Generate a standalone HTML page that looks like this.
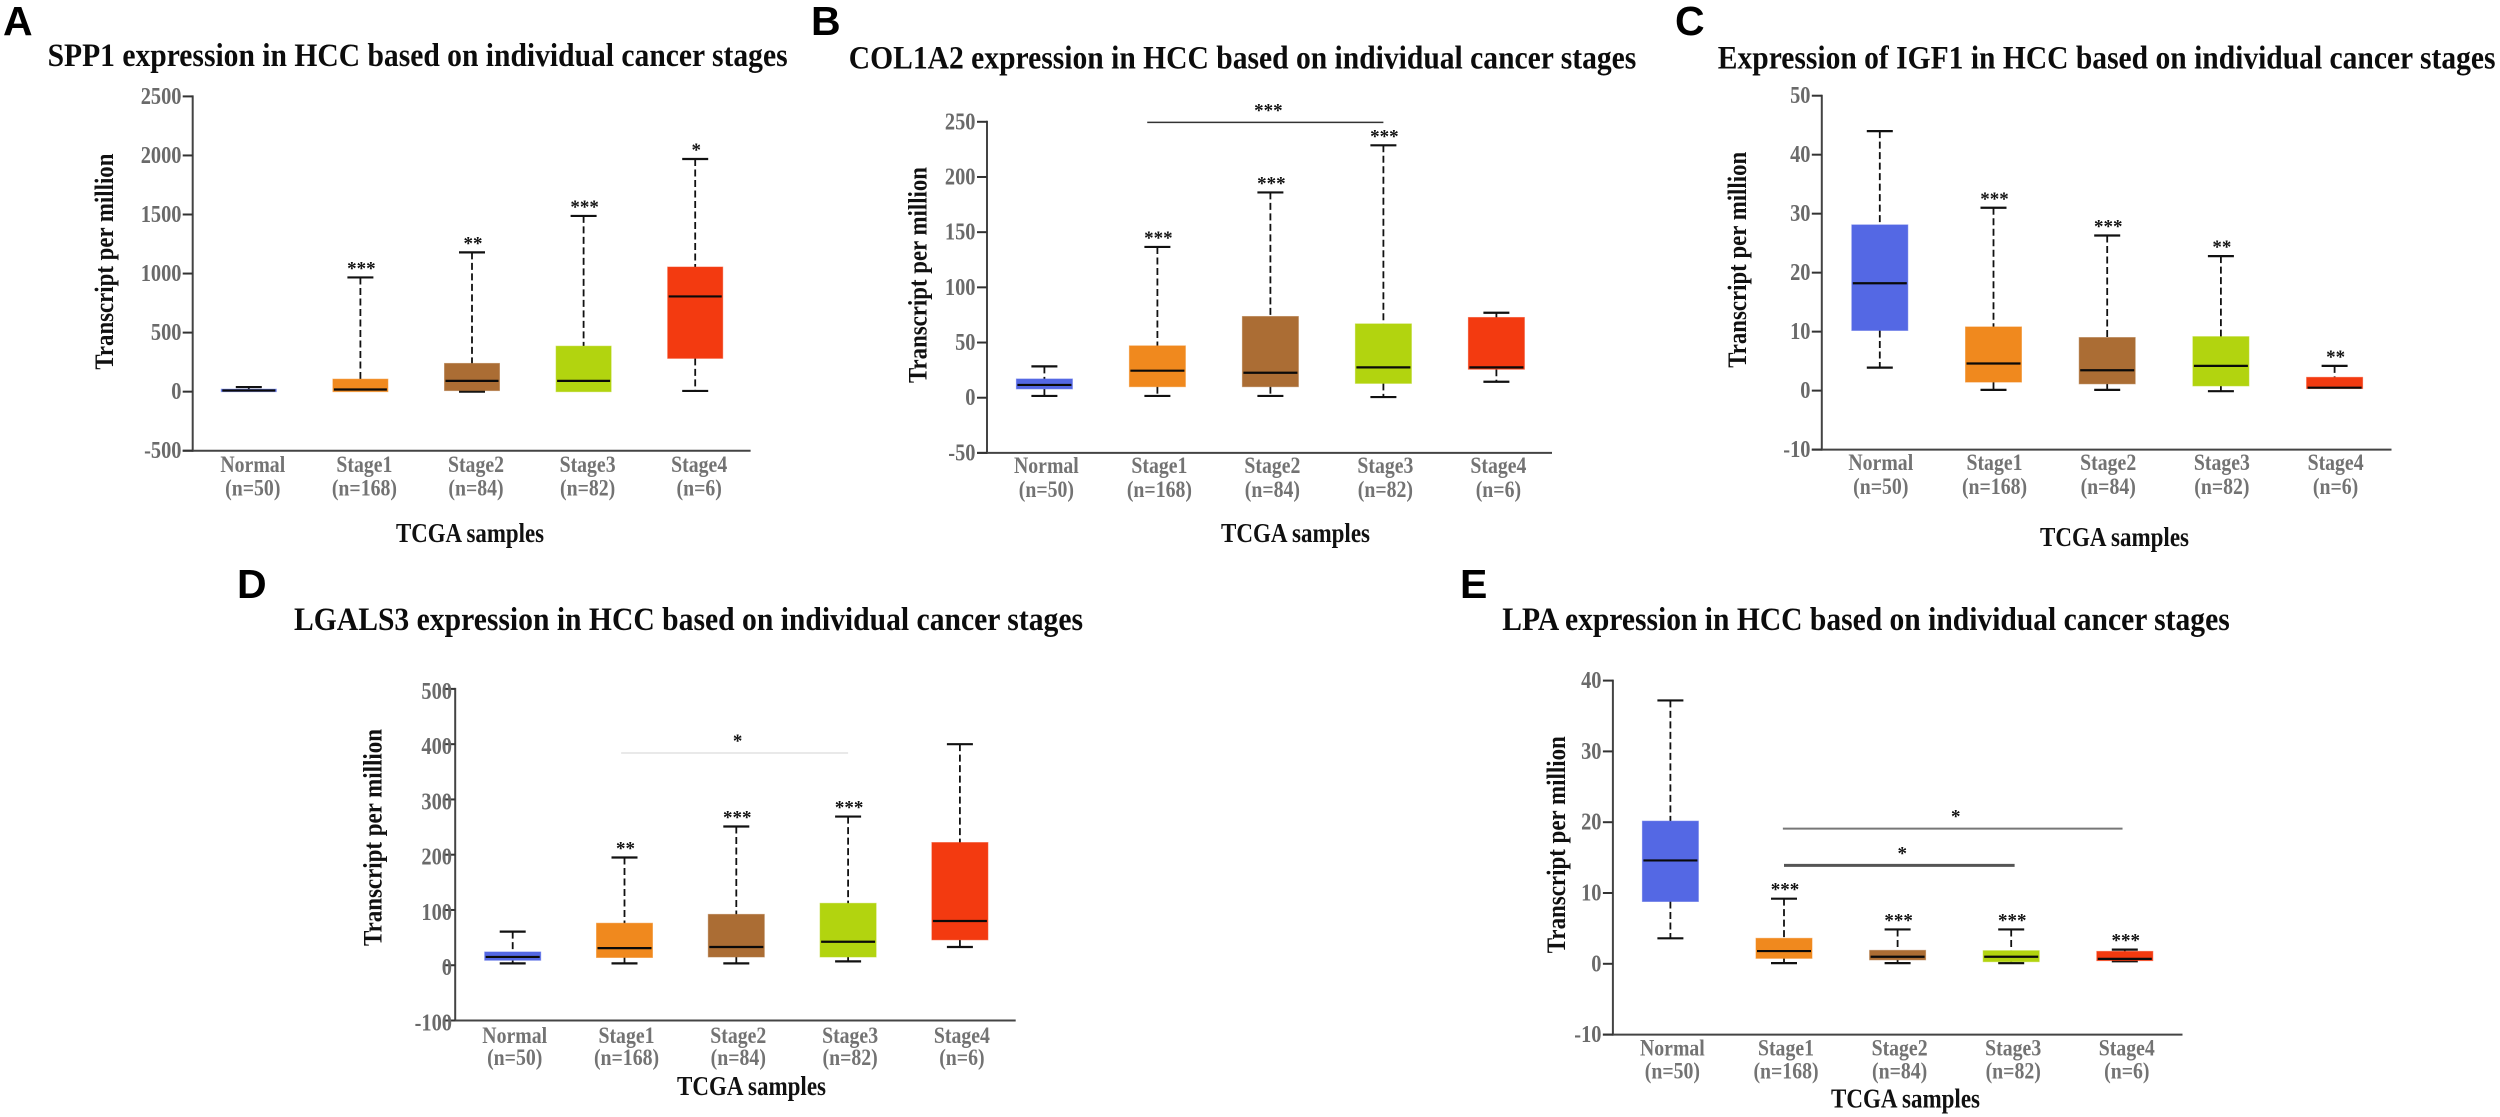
<!DOCTYPE html>
<html lang="en">
<head>
<meta charset="utf-8">
<title>Gene expression in HCC by cancer stage</title>
<style>
html,body{margin:0;padding:0;background:#fff;width:2500px;height:1117px;overflow:hidden}
svg{display:block}
text{font-family:"Liberation Serif",serif;font-weight:bold}
.letter{font-family:"Liberation Sans",sans-serif;font-size:41px;fill:#000}
.title{font-size:33px;fill:#0c0c0c}
.ytitle{font-size:26px;fill:#111}
.xtitle{font-size:27px;fill:#111}
</style>
</head>
<body>
<svg id="figure" xmlns="http://www.w3.org/2000/svg" width="2500" height="1117" viewBox="0 0 2500 1117">
  <rect x="0" y="0" width="2500" height="1117" fill="#fff"/>

  <text class="letter" x="3" y="35">A</text>
  <text class="letter" x="811" y="35">B</text>
  <text class="letter" x="1675" y="35">C</text>
  <text class="letter" x="237" y="598">D</text>
  <text class="letter" x="1460" y="598">E</text>

  <text class="title" x="47.6" y="66" textLength="740" lengthAdjust="spacingAndGlyphs">SPP1 expression in HCC based on individual cancer stages</text>
  <text class="title" x="848.8" y="68.5" textLength="787.5" lengthAdjust="spacingAndGlyphs">COL1A2 expression in HCC based on individual cancer stages</text>
  <text class="title" x="1717.8" y="68.5" textLength="777.7" lengthAdjust="spacingAndGlyphs">Expression of IGF1 in HCC based on individual cancer stages</text>
  <text class="title" x="294" y="630" textLength="789" lengthAdjust="spacingAndGlyphs">LGALS3 expression in HCC based on individual cancer stages</text>
  <text class="title" x="1502.3" y="630" textLength="727.4" lengthAdjust="spacingAndGlyphs">LPA expression in HCC based on individual cancer stages</text>

  <text class="ytitle" transform="translate(112.8 261.6) rotate(-90)" text-anchor="middle" textLength="216" lengthAdjust="spacingAndGlyphs">Transcript per million</text>
  <text class="ytitle" transform="translate(926.3 275) rotate(-90)" text-anchor="middle" textLength="216" lengthAdjust="spacingAndGlyphs">Transcript per million</text>
  <text class="ytitle" transform="translate(1746 259.8) rotate(-90)" text-anchor="middle" textLength="216" lengthAdjust="spacingAndGlyphs">Transcript per million</text>
  <text class="ytitle" transform="translate(381.5 837.5) rotate(-90)" text-anchor="middle" textLength="217" lengthAdjust="spacingAndGlyphs">Transcript per million</text>
  <text class="ytitle" transform="translate(1565.2 844.7) rotate(-90)" text-anchor="middle" textLength="217" lengthAdjust="spacingAndGlyphs">Transcript per million</text>

  <text class="xtitle" x="396" y="542" textLength="148" lengthAdjust="spacingAndGlyphs">TCGA samples</text>
  <text class="xtitle" x="1221" y="542" textLength="149" lengthAdjust="spacingAndGlyphs">TCGA samples</text>
  <text class="xtitle" x="2040" y="546" textLength="149" lengthAdjust="spacingAndGlyphs">TCGA samples</text>
  <text class="xtitle" x="677" y="1095" textLength="149" lengthAdjust="spacingAndGlyphs">TCGA samples</text>
  <text class="xtitle" x="1831" y="1107.7" textLength="149" lengthAdjust="spacingAndGlyphs">TCGA samples</text>
</svg>

<script>
// ---- shared categories ----
const categories = ['Normal', 'Stage1', 'Stage2', 'Stage3', 'Stage4'];
const sampleSizes = ['(n=50)', '(n=168)', '(n=84)', '(n=82)', '(n=6)'];
const boxColors = ['#5468e4', '#f0891e', '#ab6d34', '#b2d40f', '#f33a10'];

// ---- SPP1 ----
const spp1Ticks = [-500, 0, 500, 1000, 1500, 2000, 2500];
const spp1Hi = [39, 967, 1179, 1488, 1970];
const spp1Q3 = [21, 106, 239, 385, 1055];
const spp1Med = [10, 18, 91, 91, 806];
const spp1Q1 = [0, 0, 9, 0, 282];
const spp1Lo = [0, 0, 0, 0, 6];
const spp1Stars = ['', '***', '**', '***', '*'];
const spp1BracketFrom = [];
const spp1BracketTo = [];
const spp1BracketValue = [];
const spp1BracketStars = [];

// ---- COL1A2 ----
const col1a2Ticks = [-50, 0, 50, 100, 150, 200, 250];
const col1a2Hi = [28.4, 136.6, 186, 228.7, 77];
const col1a2Q3 = [17, 47, 73.6, 66.9, 72.7];
const col1a2Med = [11.6, 24.5, 22.6, 27.5, 27.5];
const col1a2Q1 = [8, 10, 10, 13, 25.8];
const col1a2Lo = [1.6, 1.6, 1.6, 0.6, 14.5];
const col1a2Stars = ['', '***', '***', '***', ''];
const col1a2BracketFrom = [0.91];
const col1a2BracketTo = [3];
const col1a2BracketValue = [249.5];
const col1a2BracketStars = ['***'];

// ---- IGF1 ----
const igf1Ticks = [-10, 0, 10, 20, 30, 40, 50];
const igf1Hi = [44, 31, 26.3, 22.8, 4.2];
const igf1Q3 = [28.1, 10.8, 9, 9.15, 2.25];
const igf1Med = [18.2, 4.6, 3.45, 4.2, 0.5];
const igf1Q1 = [10.2, 1.45, 1.15, 0.8, 0.35];
const igf1Lo = [3.9, 0.12, 0.12, -0.1, 0.35];
const igf1Stars = ['', '***', '***', '**', '**'];
const igf1BracketFrom = [];
const igf1BracketTo = [];
const igf1BracketValue = [];
const igf1BracketStars = [];

// ---- LGALS3 ----
const lgals3Ticks = [-100, 0, 100, 200, 300, 400, 500];
const lgals3Hi = [60.8, 195, 251, 269, 400];
const lgals3Q3 = [24, 76, 92, 112, 222];
const lgals3Med = [15, 31, 33, 42.5, 80];
const lgals3Q1 = [9, 14, 15, 15, 46];
const lgals3Lo = [3.3, 3.3, 3.3, 7, 33];
const lgals3Stars = ['', '**', '***', '***', ''];
const lgals3BracketFrom = [0.97];
const lgals3BracketTo = [3];
const lgals3BracketValue = [384];
const lgals3BracketStars = ['*'];

// ---- LPA ----
const lpaTicks = [-10, 0, 10, 20, 30, 40];
const lpaHi = [37.2, 9.2, 4.85, 4.85, 2];
const lpaQ3 = [20.15, 3.6, 1.9, 1.85, 1.75];
const lpaMed = [14.6, 1.8, 1, 1, 0.7];
const lpaQ1 = [8.8, 0.77, 0.56, 0.3, 0.45];
const lpaLo = [3.6, 0.1, 0.1, 0.1, 0.35];
const lpaStars = ['', '***', '***', '***', '***'];
const lpaBracketFrom = [0.99, 1];
const lpaBracketTo = [3.98, 3.03];
const lpaBracketValue = [19.1, 13.9];
const lpaBracketStars = ['*', '*'];

// ---- panel layout (pixels live here, not in the data arrays) ----
const panels = [
  {key:'spp1', axisX:192.7, top:96.4, bottom:450.7, right:750.6, tickLen:10, tickLabelX:181.5, tickLabelDy:7.5,
   first:248.8, step:111.6, boxW:55, labelDy:[21.5,45], labelDx:4,
   bracketColor:[], bracketWidth:[],
   ticks:spp1Ticks, hi:spp1Hi, q3:spp1Q3, med:spp1Med, q1:spp1Q1, lo:spp1Lo, stars:spp1Stars,
   bFrom:spp1BracketFrom, bTo:spp1BracketTo, bVal:spp1BracketValue, bStars:spp1BracketStars},
  {key:'col1a2', axisX:987, top:121.8, bottom:452.9, right:1552, tickLen:10, tickLabelX:975.5, tickLabelDy:7.5,
   first:1044.4, step:113, boxW:56, labelDy:[20,44], labelDx:2,
   bracketColor:['#333'], bracketWidth:[1.5],
   ticks:col1a2Ticks, hi:col1a2Hi, q3:col1a2Q3, med:col1a2Med, q1:col1a2Q1, lo:col1a2Lo, stars:col1a2Stars,
   bFrom:col1a2BracketFrom, bTo:col1a2BracketTo, bVal:col1a2BracketValue, bStars:col1a2BracketStars},
  {key:'igf1', axisX:1821.8, top:95.7, bottom:449.6, right:2391.5, tickLen:10, tickLabelX:1810.5, tickLabelDy:7.5,
   first:1879.8, step:113.7, boxW:56, labelDy:[20.4,44.4], labelDx:1,
   bracketColor:[], bracketWidth:[],
   ticks:igf1Ticks, hi:igf1Hi, q3:igf1Q3, med:igf1Med, q1:igf1Q1, lo:igf1Lo, stars:igf1Stars,
   bFrom:igf1BracketFrom, bTo:igf1BracketTo, bVal:igf1BracketValue, bStars:igf1BracketStars},
  {key:'lgals3', axisX:455.2, top:688.9, bottom:1020.5, right:1015.7, tickLen:10, tickLabelX:452, tickLabelDy:10,
   first:512.7, step:111.8, boxW:56, labelDy:[22.5,44.5], labelDx:2,
   bracketColor:['#e9e9e9'], bracketWidth:[2],
   ticks:lgals3Ticks, hi:lgals3Hi, q3:lgals3Q3, med:lgals3Med, q1:lgals3Q1, lo:lgals3Lo, stars:lgals3Stars,
   bFrom:lgals3BracketFrom, bTo:lgals3BracketTo, bVal:lgals3BracketValue, bStars:lgals3BracketStars},
  {key:'lpa', axisX:1612.9, top:680.6, bottom:1034.6, right:2182.5, tickLen:10, tickLabelX:1601.5, tickLabelDy:7.5,
   first:1670.4, step:113.6, boxW:56, labelDy:[21,44], labelDx:2,
   bracketColor:['#777','#555'], bracketWidth:[2,3],
   ticks:lpaTicks, hi:lpaHi, q3:lpaQ3, med:lpaMed, q1:lpaQ1, lo:lpaLo, stars:lpaStars,
   bFrom:lpaBracketFrom, bTo:lpaBracketTo, bVal:lpaBracketValue, bStars:lpaBracketStars}
];

const NS = 'http://www.w3.org/2000/svg';
const svg = document.getElementById('figure');

function line(parent, x1, y1, x2, y2, stroke, width, dash) {
  const el = document.createElementNS(NS, 'line');
  el.setAttribute('x1', x1);
  el.setAttribute('y1', y1);
  el.setAttribute('x2', x2);
  el.setAttribute('y2', y2);
  el.setAttribute('stroke', stroke);
  el.setAttribute('stroke-width', width);
  if (dash) el.setAttribute('stroke-dasharray', dash);
  parent.appendChild(el);
  return el;
}

function label(parent, x, y, str, size, fill, anchor, squeeze) {
  const el = document.createElementNS(NS, 'text');
  el.setAttribute('x', x);
  el.setAttribute('y', y);
  el.setAttribute('font-size', size);
  el.setAttribute('fill', fill);
  el.setAttribute('text-anchor', anchor);
  el.textContent = str;
  parent.appendChild(el);
  if (squeeze) {
    const w = el.getComputedTextLength();
    el.setAttribute('textLength', (w * squeeze).toFixed(2));
    el.setAttribute('lengthAdjust', 'spacingAndGlyphs');
  }
  return el;
}

panels.forEach(function (p) {
  const dMin = p.ticks[0];
  const dMax = p.ticks[p.ticks.length - 1];
  const yScale = function (v) { return p.bottom - (v - dMin) / (dMax - dMin) * (p.bottom - p.top); };
  const xScale = function (i) { return p.first + i * p.step; };

  const g = document.createElementNS(NS, 'g');
  
  
  svg.appendChild(g);

  // axes
  const yAxis = line(g, p.axisX, p.top - 1, p.axisX, p.bottom + 1, '#444', 2);
  
  
  const xAxis = line(g, p.axisX - p.tickLen, p.bottom, p.right, p.bottom, '#444', 2);
  
  

  // y ticks
  p.ticks.forEach(function (t) {
    const tick = line(g, p.axisX - p.tickLen, yScale(t), p.axisX, yScale(t), '#333', 2);
    
    
    const tl = label(g, p.tickLabelX, yScale(t) + p.tickLabelDy, String(t), 24, '#6a6a6a', 'end', 0.85);
    
    
  });

  // boxes
  categories.forEach(function (cat, i) {
    const cx = xScale(i);
    const slug = p.key + '-' + cat.toLowerCase();
    const capW = 26;

    const upper = line(g, cx, yScale(p.hi[i]), cx, yScale(p.q3[i]), '#111', 1.8, '7 3.5');
    
    
    const upperCap = line(g, cx - capW / 2, yScale(p.hi[i]), cx + capW / 2, yScale(p.hi[i]), '#111', 2.2);
    
    

    if (p.lo[i] !== p.q1[i]) {
      const lower = line(g, cx, yScale(p.q1[i]), cx, yScale(p.lo[i]), '#111', 1.8, '7 3.5');
      
      
      const lowerCap = line(g, cx - capW / 2, yScale(p.lo[i]), cx + capW / 2, yScale(p.lo[i]), '#111', 2.2);
      
      
    }

    const rect = document.createElementNS(NS, 'rect');
    rect.setAttribute('x', cx - p.boxW / 2);
    rect.setAttribute('y', yScale(p.q3[i]));
    rect.setAttribute('width', p.boxW);
    rect.setAttribute('height', Math.max(0, yScale(p.q1[i]) - yScale(p.q3[i])));
    rect.setAttribute('fill', boxColors[i]);
    rect.setAttribute('stroke', boxColors[i]);
    rect.setAttribute('stroke-opacity', '0.55');
    rect.setAttribute('stroke-width', '1');
    
    
    g.appendChild(rect);

    const med = line(g, cx - p.boxW / 2 + 1, yScale(p.med[i]), cx + p.boxW / 2 - 1, yScale(p.med[i]), '#0a0a0a', 2.2);
    
    

    if (p.stars[i]) {
      const s = label(g, cx + 1, yScale(p.hi[i]) - 3, p.stars[i], 19, '#111', 'middle');
      
      
    }

    const c1 = label(g, cx + p.labelDx, p.bottom + p.labelDy[0], cat, 23, '#737373', 'middle', 0.86);
    
    
    const c2 = label(g, cx + p.labelDx, p.bottom + p.labelDy[1], sampleSizes[i], 23, '#737373', 'middle', 0.86);
    
    
  });

  // comparison brackets
  p.bVal.forEach(function (v, b) {
    const bx1 = xScale(p.bFrom[b]);
    const bx2 = xScale(p.bTo[b]);
    const br = line(g, bx1, yScale(v), bx2, yScale(v), p.bracketColor[b], p.bracketWidth[b]);
    
    
    const bs = label(g, (bx1 + bx2) / 2 + 3, yScale(v) - 6, p.bStars[b], 19, '#111', 'middle');
    
    
  });
});
</script>
</body>
</html>
